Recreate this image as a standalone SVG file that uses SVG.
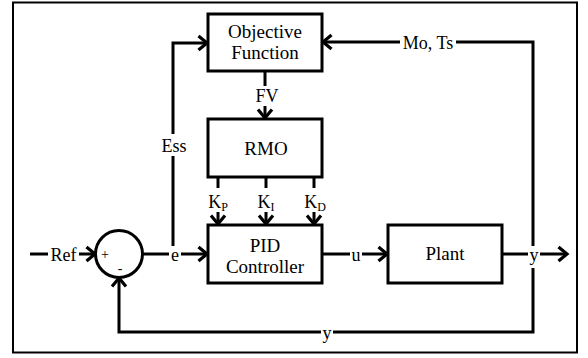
<svg xmlns="http://www.w3.org/2000/svg" width="588" height="358" viewBox="0 0 588 358">
<style>
.box{fill:#fff;stroke:#000;stroke-width:3}
.nodetext{font-family:"Liberation Serif","DejaVu Serif",serif;font-size:19px;fill:#000;stroke:none;text-anchor:middle}
.lbl{font-family:"Liberation Serif","DejaVu Serif",serif;font-size:18px;fill:#000;stroke:none;text-anchor:middle}
.sub{font-size:12px}
.w{fill:#fff;stroke:none}
.c{fill:none;stroke:#000;stroke-width:3}
</style>
<defs>
<marker id="ah" markerUnits="userSpaceOnUse" markerWidth="14" markerHeight="18" viewBox="-10 -9 12 18" refX="0" refY="0" orient="auto">
<path d="M-8.5,-7 L0,0 L-8.5,7" fill="none" stroke="#000" stroke-width="3.2"/>
</marker>
</defs>
<rect x="0" y="0" width="588" height="358" fill="#fff"/>
<rect id="frame" x="13" y="2.5" width="564" height="350" fill="none" stroke="#000" stroke-width="2"/>
<g id="connectors">
<path class="c" d="M30,254 H95" marker-end="url(#ah)"/>
<path class="c" d="M143,254 H207" marker-end="url(#ah)"/>
<path class="c" d="M173,254 V43 H207" marker-end="url(#ah)"/>
<path class="c" d="M265,71 V118" marker-end="url(#ah)"/>
<path class="c" d="M218,177 V224" marker-end="url(#ah)"/>
<path class="c" d="M266,177 V224" marker-end="url(#ah)"/>
<path class="c" d="M314,177 V224" marker-end="url(#ah)"/>
<path class="c" d="M322,254 H387" marker-end="url(#ah)"/>
<path class="c" d="M502,254 H567" marker-end="url(#ah)"/>
<path class="c" d="M533,254 V42 H323" marker-end="url(#ah)"/>
<path class="c" d="M533,254 V332 H119 V278" marker-end="url(#ah)"/>
<g id="labels">
<rect class="w" x="48" y="244" width="31" height="20"/>
<text class="lbl" x="63.5" y="261">Ref</text>
<rect class="w" x="169" y="246" width="12" height="18"/>
<text class="lbl" x="175" y="261">e</text>
<rect class="w" x="160" y="134" width="28" height="22"/>
<text class="lbl" x="174" y="152">Ess</text>
<rect class="w" x="254" y="86" width="26" height="20"/>
<text class="lbl" x="267" y="102">FV</text>
<rect class="w" x="206" y="188" width="24" height="24"/>
<text class="lbl" x="218" y="208">K<tspan class="sub" dy="3">P</tspan></text>
<rect class="w" x="256" y="188" width="22" height="24"/>
<text class="lbl" x="266" y="208">K<tspan class="sub" dy="3">I</tspan></text>
<rect class="w" x="302" y="188" width="26" height="24"/>
<text class="lbl" x="315" y="208">K<tspan class="sub" dy="3">D</tspan></text>
<rect class="w" x="350" y="246" width="12" height="18"/>
<text class="lbl" x="356" y="261">u</text>
<rect class="w" x="528" y="246" width="12" height="22"/>
<text class="lbl" x="534" y="261">y</text>
<rect class="w" x="321" y="325" width="12" height="20"/>
<text class="lbl" x="327" y="339">y</text>
<rect class="w" x="400" y="33" width="56" height="20"/>
<text class="lbl" x="428" y="49">Mo, Ts</text>
</g>
</g>
<g id="sum">
<circle cx="119" cy="254" r="23.5" fill="#fff" stroke="#000" stroke-width="3"/>
<text class="lbl" x="105" y="259" style="font-size:14px">+</text>
<text class="lbl" x="120" y="273" style="font-size:14px">-</text>
</g>
<g id="objective">
<rect class="box" x="208" y="14" width="114" height="57"/>
<text class="nodetext" x="265" y="38">Objective</text>
<text class="nodetext" x="265" y="59">Function</text>
</g>
<g id="rmo">
<rect class="box" x="208" y="119" width="114" height="58"/>
<text class="nodetext" x="266" y="155">RMO</text>
</g>
<g id="pid">
<rect class="box" x="208" y="225" width="114" height="58"/>
<text class="nodetext" x="265" y="252">PID</text>
<text class="nodetext" x="265" y="273">Controller</text>
</g>
<g id="plant">
<rect class="box" x="388" y="225" width="114" height="58"/>
<text class="nodetext" x="445" y="260">Plant</text>
</g>
</svg>
